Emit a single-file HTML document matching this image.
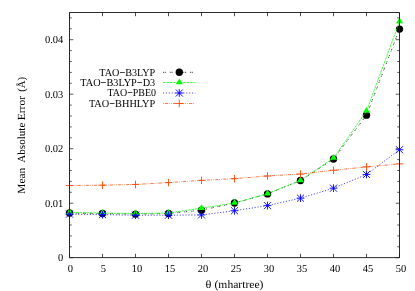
<!DOCTYPE html><html><head><meta charset="utf-8"><style>html,body{margin:0;padding:0;background:#fff}svg{display:block;will-change:transform}text{text-rendering:geometricPrecision;font-family:"Liberation Serif",serif;fill:#000}</style></head><body>
<svg width="415" height="291" viewBox="0 0 415 291">
<rect width="415" height="291" fill="#fff"/>
<path d="M69.5 257.70h3.8M399.5 257.70h-3.8M69.5 246.80h2.3M399.5 246.80h-2.3M69.5 235.90h2.3M399.5 235.90h-2.3M69.5 225.00h2.3M399.5 225.00h-2.3M69.5 214.10h2.3M399.5 214.10h-2.3M69.5 203.20h3.8M399.5 203.20h-3.8M69.5 192.30h2.3M399.5 192.30h-2.3M69.5 181.40h2.3M399.5 181.40h-2.3M69.5 170.50h2.3M399.5 170.50h-2.3M69.5 159.60h2.3M399.5 159.60h-2.3M69.5 148.70h3.8M399.5 148.70h-3.8M69.5 137.80h2.3M399.5 137.80h-2.3M69.5 126.90h2.3M399.5 126.90h-2.3M69.5 116.00h2.3M399.5 116.00h-2.3M69.5 105.10h2.3M399.5 105.10h-2.3M69.5 94.20h3.8M399.5 94.20h-3.8M69.5 83.30h2.3M399.5 83.30h-2.3M69.5 72.40h2.3M399.5 72.40h-2.3M69.5 61.50h2.3M399.5 61.50h-2.3M69.5 50.60h2.3M399.5 50.60h-2.3M69.5 39.70h3.8M399.5 39.70h-3.8M69.5 28.80h2.3M399.5 28.80h-2.3M69.5 17.90h2.3M399.5 17.90h-2.3" stroke="#000" stroke-width="0.65" fill="none"/>
<path d="M69.50 257.5v-3.7M69.50 12.5v3.7M102.50 257.5v-3.7M102.50 12.5v3.7M135.50 257.5v-3.7M135.50 12.5v3.7M168.50 257.5v-3.7M168.50 12.5v3.7M201.50 257.5v-3.7M201.50 12.5v3.7M234.50 257.5v-3.7M234.50 12.5v3.7M267.50 257.5v-3.7M267.50 12.5v3.7M300.50 257.5v-3.7M300.50 12.5v3.7M333.50 257.5v-3.7M333.50 12.5v3.7M366.50 257.5v-3.7M366.50 12.5v3.7M399.50 257.5v-3.7M399.50 12.5v3.7" stroke="#000" stroke-width="0.7" fill="none"/>
<polyline points="69.50,213.02 102.50,213.56 135.50,214.11 168.50,213.56 201.50,210.13 234.50,203.06 267.50,193.91 300.50,180.46 333.50,159.06 366.50,115.13 399.50,29.11" fill="none" stroke="#000" stroke-width="0.75" stroke-dasharray="1.0 0.7 1.2 3.85"/>
<circle cx="69.50" cy="213.02" r="3.7" fill="#000"/>
<circle cx="102.50" cy="213.56" r="3.7" fill="#000"/>
<circle cx="135.50" cy="214.11" r="3.7" fill="#000"/>
<circle cx="168.50" cy="213.56" r="3.7" fill="#000"/>
<circle cx="201.50" cy="210.13" r="3.7" fill="#000"/>
<circle cx="234.50" cy="203.06" r="3.7" fill="#000"/>
<circle cx="267.50" cy="193.91" r="3.7" fill="#000"/>
<circle cx="300.50" cy="180.46" r="3.7" fill="#000"/>
<circle cx="333.50" cy="159.06" r="3.7" fill="#000"/>
<circle cx="366.50" cy="115.13" r="3.7" fill="#000"/>
<circle cx="399.50" cy="29.11" r="3.7" fill="#000"/>
<polyline points="69.50,212.47 102.50,213.02 135.50,213.56 168.50,213.02 201.50,208.12 234.50,203.06 267.50,193.69 300.50,180.41 333.50,158.08 366.50,111.10 399.50,21.48" fill="none" stroke="#00ff00" stroke-width="0.75" stroke-dasharray="2.5 0.9"/>
<path d="M69.50 208.50L65.95 214.25L73.05 214.25Z" fill="#00ff00"/>
<path d="M102.50 209.04L98.95 214.79L106.05 214.79Z" fill="#00ff00"/>
<path d="M135.50 209.59L131.95 215.34L139.05 215.34Z" fill="#00ff00"/>
<path d="M168.50 209.04L164.95 214.79L172.05 214.79Z" fill="#00ff00"/>
<path d="M201.50 204.14L197.95 209.89L205.05 209.89Z" fill="#00ff00"/>
<path d="M234.50 199.08L230.95 204.83L238.05 204.83Z" fill="#00ff00"/>
<path d="M267.50 189.72L263.95 195.47L271.05 195.47Z" fill="#00ff00"/>
<path d="M300.50 176.43L296.95 182.18L304.05 182.18Z" fill="#00ff00"/>
<path d="M333.50 154.11L329.95 159.86L337.05 159.86Z" fill="#00ff00"/>
<path d="M366.50 107.12L362.95 112.87L370.05 112.87Z" fill="#00ff00"/>
<path d="M399.50 17.51L395.95 23.26L403.05 23.26Z" fill="#00ff00"/>
<polyline points="69.50,214.11 102.50,214.65 135.50,215.20 168.50,215.20 201.50,214.92 234.50,210.73 267.50,205.61 300.50,198.16 333.50,188.19 366.50,174.47 399.50,149.70" fill="none" stroke="#0000ff" stroke-width="0.75" stroke-dasharray="1.1 1.8"/>
<path d="M65.60 214.11H73.40M69.50 210.21V218.01M65.95 210.56L73.05 217.66M65.95 217.66L73.05 210.56" stroke="#0000ff" stroke-width="0.9" fill="none"/>
<path d="M98.60 214.65H106.40M102.50 210.75V218.55M98.95 211.10L106.05 218.20M98.95 218.20L106.05 211.10" stroke="#0000ff" stroke-width="0.9" fill="none"/>
<path d="M131.60 215.20H139.40M135.50 211.30V219.10M131.95 211.65L139.05 218.75M131.95 218.75L139.05 211.65" stroke="#0000ff" stroke-width="0.9" fill="none"/>
<path d="M164.60 215.20H172.40M168.50 211.30V219.10M164.95 211.65L172.05 218.75M164.95 218.75L172.05 211.65" stroke="#0000ff" stroke-width="0.9" fill="none"/>
<path d="M197.60 214.92H205.40M201.50 211.02V218.82M197.95 211.37L205.05 218.47M197.95 218.47L205.05 211.37" stroke="#0000ff" stroke-width="0.9" fill="none"/>
<path d="M230.60 210.73H238.40M234.50 206.83V214.63M230.95 207.18L238.05 214.28M230.95 214.28L238.05 207.18" stroke="#0000ff" stroke-width="0.9" fill="none"/>
<path d="M263.60 205.61H271.40M267.50 201.71V209.51M263.95 202.06L271.05 209.16M263.95 209.16L271.05 202.06" stroke="#0000ff" stroke-width="0.9" fill="none"/>
<path d="M296.60 198.16H304.40M300.50 194.26V202.06M296.95 194.61L304.05 201.71M296.95 201.71L304.05 194.61" stroke="#0000ff" stroke-width="0.9" fill="none"/>
<path d="M329.60 188.19H337.40M333.50 184.29V192.09M329.95 184.64L337.05 191.74M329.95 191.74L337.05 184.64" stroke="#0000ff" stroke-width="0.9" fill="none"/>
<path d="M362.60 174.47H370.40M366.50 170.57V178.37M362.95 170.92L370.05 178.02M362.95 178.02L370.05 170.92" stroke="#0000ff" stroke-width="0.9" fill="none"/>
<path d="M395.60 149.70H403.40M399.50 145.80V153.60M395.95 146.15L403.05 153.25M395.95 153.25L403.05 146.15" stroke="#0000ff" stroke-width="0.9" fill="none"/>
<polyline points="69.50,185.52 102.50,185.20 135.50,184.44 168.50,182.58 201.50,180.35 234.50,178.66 267.50,176.00 300.50,174.04 333.50,170.28 366.50,166.85 399.50,163.86" fill="none" stroke="#ff4500" stroke-width="0.75" stroke-dasharray="3.2 0.9 0.7 1.5 0.7 1.1"/>
<path d="M65.75 185.52H73.25M69.50 181.77V189.27" stroke="#ff4500" stroke-width="0.9" fill="none"/>
<path d="M98.75 185.20H106.25M102.50 181.45V188.95" stroke="#ff4500" stroke-width="0.9" fill="none"/>
<path d="M131.75 184.44H139.25M135.50 180.69V188.19" stroke="#ff4500" stroke-width="0.9" fill="none"/>
<path d="M164.75 182.58H172.25M168.50 178.83V186.33" stroke="#ff4500" stroke-width="0.9" fill="none"/>
<path d="M197.75 180.35H205.25M201.50 176.60V184.10" stroke="#ff4500" stroke-width="0.9" fill="none"/>
<path d="M230.75 178.66H238.25M234.50 174.91V182.41" stroke="#ff4500" stroke-width="0.9" fill="none"/>
<path d="M263.75 176.00H271.25M267.50 172.25V179.75" stroke="#ff4500" stroke-width="0.9" fill="none"/>
<path d="M296.75 174.04H304.25M300.50 170.29V177.79" stroke="#ff4500" stroke-width="0.9" fill="none"/>
<path d="M329.75 170.28H337.25M333.50 166.53V174.03" stroke="#ff4500" stroke-width="0.9" fill="none"/>
<path d="M362.75 166.85H370.25M366.50 163.10V170.60" stroke="#ff4500" stroke-width="0.9" fill="none"/>
<path d="M395.75 163.86H403.25M399.50 160.11V167.61" stroke="#ff4500" stroke-width="0.9" fill="none"/>
<path d="M163.0 72.3H195.3" stroke="#000" stroke-width="0.75" stroke-dasharray="1.0 0.7 1.2 3.85" fill="none"/>
<circle cx="179.30" cy="72.30" r="3.7" fill="#000"/>
<text transform="translate(99.30,75.50) scale(0.9518,1)" font-size="10.7">TAO<tspan font-weight="bold">−</tspan>B3LYP</text>
<path d="M163.0 82.5H195.3" stroke="#00ff00" stroke-width="0.75" stroke-dasharray="2.5 0.9" fill="none"/>
<path d="M179.30 78.52L175.75 84.28L182.85 84.28Z" fill="#00ff00"/>
<text transform="translate(80.30,85.90) scale(0.9607,1)" font-size="10.7">TAO<tspan font-weight="bold">−</tspan>B3LYP<tspan font-weight="bold">−</tspan>D3</text>
<path d="M163.0 93.0H195.3" stroke="#0000ff" stroke-width="0.75" stroke-dasharray="1.1 1.8" fill="none"/>
<path d="M175.40 93.00H183.20M179.30 89.10V96.90M175.75 89.45L182.85 96.55M175.75 96.55L182.85 89.45" stroke="#0000ff" stroke-width="0.9" fill="none"/>
<text transform="translate(107.50,96.20) scale(0.9302,1)" font-size="10.7">TAO<tspan font-weight="bold">−</tspan>PBE0</text>
<path d="M163.0 103.5H195.3" stroke="#ff4500" stroke-width="0.75" stroke-dasharray="3.2 0.9 0.7 1.5 0.7 1.1" stroke-dashoffset="6.3" fill="none"/>
<path d="M175.55 103.50H183.05M179.30 99.75V107.25" stroke="#ff4500" stroke-width="0.9" fill="none"/>
<text transform="translate(88.90,106.60) scale(0.9629,1)" font-size="10.7">TAO<tspan font-weight="bold">−</tspan>BHHLYP</text>
<path d="M69.5 12.5H399.5V257.6H69.5Z" fill="none" stroke="#141414" stroke-width="0.9"/>
<text transform="translate(67.67,271.70) scale(0.9813,1)" font-size="10.7">0</text>
<text transform="translate(100.67,271.70) scale(0.9813,1)" font-size="10.7">5</text>
<text transform="translate(131.75,271.70) scale(0.9813,1)" font-size="10.7">10</text>
<text transform="translate(164.75,271.70) scale(0.9813,1)" font-size="10.7">15</text>
<text transform="translate(197.75,271.70) scale(0.9813,1)" font-size="10.7">20</text>
<text transform="translate(230.75,271.70) scale(0.9813,1)" font-size="10.7">25</text>
<text transform="translate(263.75,271.70) scale(0.9813,1)" font-size="10.7">30</text>
<text transform="translate(296.75,271.70) scale(0.9813,1)" font-size="10.7">35</text>
<text transform="translate(329.75,271.70) scale(0.9813,1)" font-size="10.7">40</text>
<text transform="translate(362.75,271.70) scale(0.9813,1)" font-size="10.7">45</text>
<text transform="translate(395.75,271.70) scale(0.9813,1)" font-size="10.7">50</text>
<text transform="translate(58.05,261.00) scale(0.9813,1)" font-size="10.7">0</text>
<text transform="translate(44.90,206.56) scale(0.9826,1)" font-size="10.7">0.01</text>
<text transform="translate(44.90,152.11) scale(0.9826,1)" font-size="10.7">0.02</text>
<text transform="translate(44.90,97.67) scale(0.9826,1)" font-size="10.7">0.03</text>
<text transform="translate(44.90,43.22) scale(0.9826,1)" font-size="10.7">0.04</text>
<text transform="translate(205.62,287.70) scale(1.0999,1)" font-size="11.2">θ</text>
<text transform="translate(214.49,287.70) scale(1.0374,1)" font-size="11.2">(mhartree)</text>
<text transform="translate(25.00,193.73) rotate(-90) scale(1.0436,1)" font-size="10.9">Mean</text>
<text transform="translate(25.00,162.71) rotate(-90) scale(1.0187,1)" font-size="10.9">Absolute</text>
<text transform="translate(25.00,120.33) rotate(-90) scale(1.0625,1)" font-size="10.9">Error</text>
<text transform="translate(25.00,91.87) rotate(-90) scale(0.9878,1)" font-size="10.9">(Å)</text>
</svg></body></html>
